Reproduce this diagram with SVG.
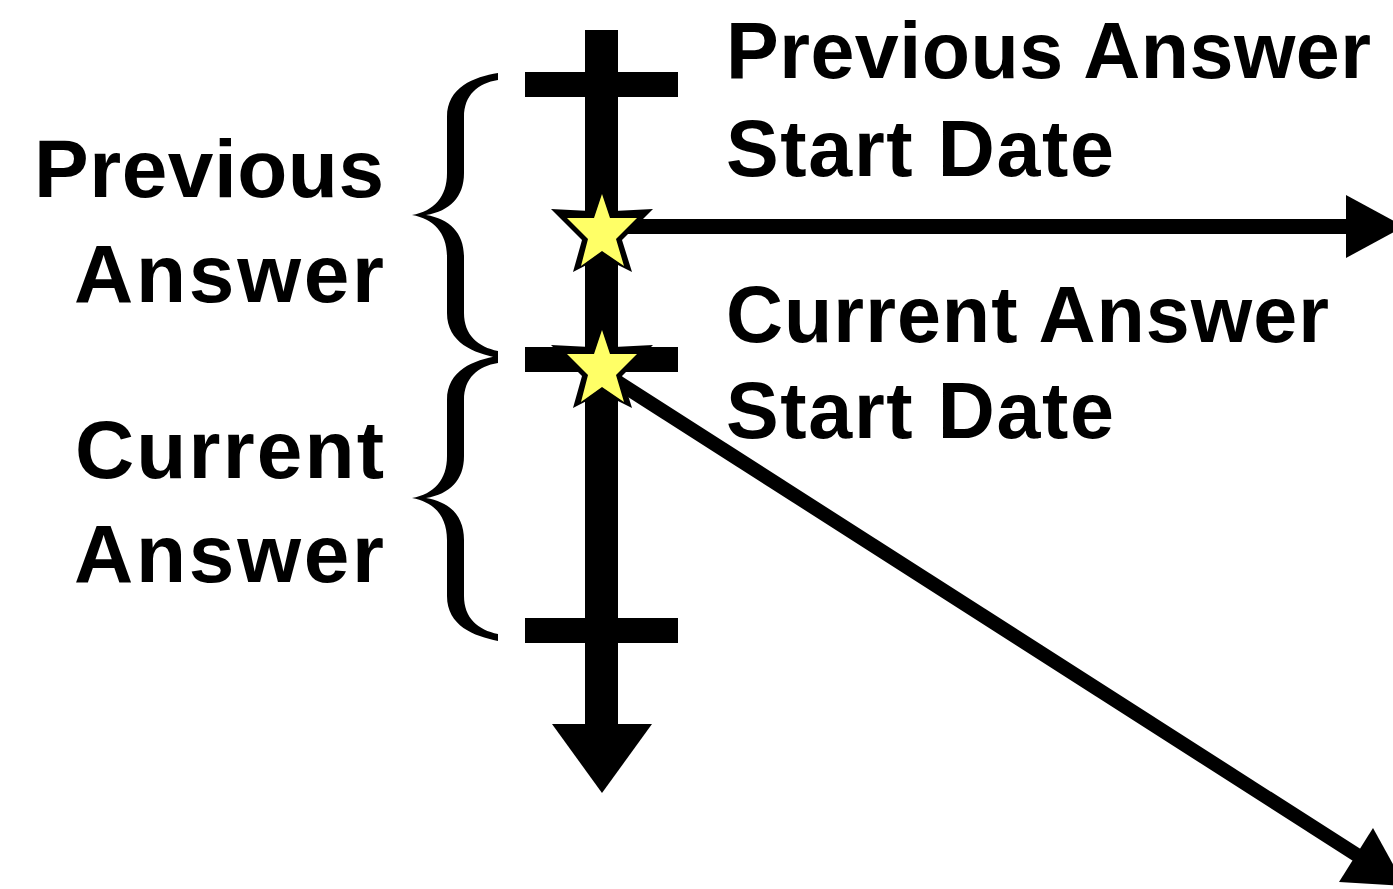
<svg xmlns="http://www.w3.org/2000/svg" width="1393" height="889" viewBox="0 0 1393 889">
<style>
.lbl{font-family:"Liberation Sans",Arial,sans-serif;font-weight:bold;fill:#000}
.l{font-size:82px}
.r{font-size:79px}
.ink{fill:#000}
.sy{fill:#ffff66}
</style>
<defs>
<path id="brace" d="M86,-142 C62,-138 35,-128 35,-98 L35,-42 C35,-18 22,-4 0,0 C22,4 35,18 35,42 L35,98 C35,128 62,138 86,143 L86,136 C66,132 52,120 52,98 L52,42 C52,18 38,4 14,0 C38,-4 52,-18 52,-42 L52,-98 C52,-120 66,-132 86,-135 Z"/>
<g id="star">
<polygon class="ink" points="602,188 590,211 551,209 582,240 573,272 602,257 632,272 622,240 653,209 614,211"/>
<polygon class="sy" points="602,194 594,218 567,218 588,239 581,266 602,251 624,266 616,239 637,218 610,218"/>
</g>
</defs>
<g id="timeline">
<rect class="ink" x="585" y="30" width="33" height="696"/>
<polygon class="ink" points="552,724 652,724 602,793"/>
<rect class="ink" x="525" y="72" width="153" height="25"/>
<rect class="ink" x="525" y="347" width="153" height="25"/>
<rect class="ink" x="525" y="618" width="153" height="25"/>
</g>
<g id="connectors">
<line x1="602" y1="226.5" x2="1350" y2="226.5" stroke="#000" stroke-width="15"/>
<polygon class="ink" points="1346,195 1346,258 1404,226.5"/>
<line x1="602" y1="372" x2="1360" y2="857" stroke="#000" stroke-width="14"/>
<polygon class="ink" points="1373,828 1339,882 1405,886"/>
</g>
<g id="brace-previous"><use href="#brace" transform="translate(412,215)"/></g>
<g id="brace-current"><use href="#brace" transform="translate(412,498)"/></g>
<g id="star-previous"><use href="#star"/></g>
<g id="star-current"><use href="#star" transform="translate(0,136)"/></g>
<g id="label-previous">
<text class="lbl l" x="384" y="197" text-anchor="end" textLength="350" lengthAdjust="spacing">Previous</text>
<text class="lbl l" x="384" y="302" text-anchor="end" textLength="310" lengthAdjust="spacing">Answer</text>
</g>
<g id="label-current">
<text class="lbl l" x="384" y="478" text-anchor="end" textLength="309" lengthAdjust="spacing">Current</text>
<text class="lbl l" x="384" y="582" text-anchor="end" textLength="310" lengthAdjust="spacing">Answer</text>
</g>
<g id="label-prev-start">
<text class="lbl r" x="726" y="78" textLength="645" lengthAdjust="spacing">Previous Answer</text>
<text class="lbl r" x="726" y="176" textLength="388" lengthAdjust="spacing">Start Date</text>
</g>
<g id="label-curr-start">
<text class="lbl r" x="726" y="342" textLength="603" lengthAdjust="spacing">Current Answer</text>
<text class="lbl r" x="726" y="438" textLength="388" lengthAdjust="spacing">Start Date</text>
</g>
</svg>
